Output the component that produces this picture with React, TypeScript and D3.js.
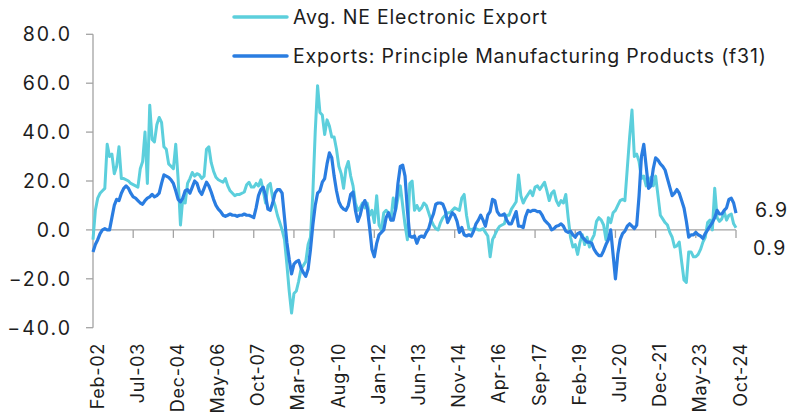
import * as d3 from 'd3'

// monthly, Feb-02 .. Oct-24 (273 points)
const neElectronic = [
  -4, 8, 13, 15, 16, 17, 35, 30, 31, 23, 26, 34, 21, 21, 20.5, 20, 19, 18.5, 18, 17.5,
  25, 28, 40, 19, 51, 37, 36, 43, 46, 44, 34, 33, 27, 26, 25, 35, 21, 2, 13, 11,
  19, 21, 23.5, 22, 23, 22.5, 21, 22, 33, 34, 27.5, 24, 21.5, 20.5, 20, 19.5, 21, 18, 16, 15,
  14, 14.5, 14.5, 15, 15.5, 18.5, 19.5, 17.5, 17.5, 19, 18, 20.5, 16, 11, 18, 19, 13, 10, 6, 3,
  0, -4, -14, -25, -34, -26, -25, -21, -16, -14.5, -13, -6, -3, 15, 40, 59, 48, 47, 39, 45,
  42.5, 38, 38, 33, 26, 23, 17, 25, 28, 22, 18, 11, 8, 9, 11, 9, 11, 6, 8, 3,
  14, 2, 0, 7, 8, 7, 4, 13, 8, 13, 18, 10, 2, -4, 19, 20, 8, 10, 8, 9,
  11, 10, 7, 4, 2, 0.5, 0, 3, 5, 6, 7, 7, 8, 9, 8.5, 8, 13, 14.5, 6, 0.5,
  0, 0.5, 0.5, 0, 0, 0.5, -1, -2.5, -11, -4, -2, 0, 1.5, 2, 2.5, 6, 6, 8.5, 10, 11.5,
  22.5, 14, 11, 13, 14.5, 16, 14, 17.5, 18, 16.5, 18, 19.5, 16, 12, 15, 16, 12, 10, 12, 11,
  14.5, 5, -3, -7, -6, -10, -5, -2, -6, -3, -7, -4, -2, 3.5, 5, 4, 2, -4, 5, 3,
  7, 8, 10, 12, 12.5, 12, 25, 38, 49, 30, 31, 28, 21, 22, 18, 19, 21.5, 18, 22, 14,
  6, 4.5, 3, 2, -1, -3, -7, -6.5, -5, -13, -20.5, -21.5, -9, -9, -11, -11, -10, -8, -5, -3,
  3, 4, 0, 17, 5, 3.5, 4.5, 7.5, 4, 6, 6.5, 2.5, 0.9,
]

const principalMfg = [
  -9, -6, -4, -1.5, 0, 0.5, 0, 0, 5, 10, 12.5, 12, 15, 17, 18, 17, 15, 13.5, 13, 12,
  11, 10.5, 12, 13, 13.5, 14.5, 13.5, 14, 15, 19, 22.5, 22, 21.5, 20.5, 19, 16, 12.5, 11.5, 13, 16,
  16.5, 15, 17.5, 20, 19, 16, 14.5, 17, 19.5, 18, 15.5, 12.5, 10, 8.5, 7.5, 6, 5.5, 6, 6.5, 6,
  6, 5.5, 6, 6, 6.5, 6, 6, 5.5, 5, 9, 14, 16.5, 17.5, 14, 8.5, 8, 11, 15, 16.5, 16.5,
  15, 5, -5, -12, -18, -14, -13, -12.5, -15.5, -17.5, -19, -16, -8, 2, 10, 15, 16, 19.5, 21, 27,
  31.5, 29.5, 22, 16, 11.5, 9.5, 8.5, 8, 10, 14.5, 15.5, 8, 3.5, 6, 10, 12, 9, 1, -8, -11,
  -5.5, -2, -1, 0, 5, 7, 4, 4, 8.5, 19, 26, 26.5, 22, 8, -2.5, -3, -2.5, -5.5, -3, -2.5,
  -3, -1, 0.5, 4, 6.5, 10.5, 11, 11, 10.5, 8, 3, 5, 7, 6, 3.5, -1, 1, -2, -2.5, -2,
  -2.5, -0.5, 2.5, 4, 6, 4, 1.5, 6, 7.5, 12.5, 12, 7.5, 6, 6, 6.5, 4, 2.5, 2.5, 5, 7.5,
  1.5, 1.5, 1, 5.5, 8, 7.5, 8, 8, 7.5, 7.5, 6, 4, 3, 2, 0, 0.5, 1.5, 1.8, 2.5, 1.5,
  -0.5, -1, -0.5, -2, -3, -1.5, -1, -3, -4, -5, -5, -5.5, -8, -9.5, -10.5, -10.5, -8.5, -6, -4, 0,
  -10, -20, -10, -4, -1.5, -0.5, 1.5, 2.5, 1.5, 0.5, 2, 14, 30, 35, 26, 17, 18, 25, 29.5, 28.5,
  27, 26, 24.5, 21, 17.5, 14, 15, 16.5, 15, 12, 9, 3.5, -3, -2, -2, -1, -2, -2.5, -3.5, -1.5,
  0, 1.5, 3, 5, 8, 6.5, 6.5, 8, 9, 12.5, 13, 11, 6.9,
]

const tickLabels = [
  'Feb-02', 'Jul-03', 'Dec-04', 'May-06', 'Oct-07', 'Mar-09', 'Aug-10', 'Jan-12', 'Jun-13',
  'Nov-14', 'Apr-16', 'Sep-17', 'Feb-19', 'Jul-20', 'Dec-21', 'May-23', 'Oct-24',
]
const tickStep = 17
const yTicks = [-40, -20, 0, 20, 40, 60, 80]

const LIGHT = '#5CCFDC'
const DARK = '#2A7DE1'
const AXIS = '#A3A3A3'
const TEXT = '#1d1d1d'
const FONT = 'Inter, sans-serif'

export default function App() {
  const width = 790
  const height = 417
  const x = d3.scaleLinear().domain([0, neElectronic.length - 1]).range([93, 736])
  const y = d3.scaleLinear().domain([-40, 80]).range([327.7, 34.3])
  const fmt = d3.format('.1f')

  const line = d3
    .line<number>()
    .x((_, i) => x(i))
    .y((d) => y(d))

  const legend = [
    { name: 'Avg. NE Electronic Export', color: LIGHT, cy: 17 },
    { name: 'Exports: Principle Manufacturing Products (f31)', color: DARK, cy: 56 },
  ]

  return (
    <svg
      width={width}
      height={height}
      style={{ position: 'absolute', left: 0, top: 0, background: '#fff' }}
      fontFamily={FONT}
    >
      {/* y axis */}
      <line x1={93} x2={93} y1={y(80)} y2={y(-40)} stroke={AXIS} strokeWidth={1.3} />
      {yTicks.map((t) => (
        <g key={t}>
          <line x1={86} x2={93} y1={y(t)} y2={y(t)} stroke={AXIS} strokeWidth={1.3} />
          <text
            x={72}
            y={y(t)}
            textAnchor="end"
            dominantBaseline="central"
            fontSize={19.5}
            letterSpacing={2}
            fill={TEXT}
          >
            {fmt(t)}
          </text>
        </g>
      ))}

      {/* x axis at zero */}
      <line x1={93} x2={736} y1={y(0)} y2={y(0)} stroke={AXIS} strokeWidth={1.3} />
      {tickLabels.map((lab, k) => {
        const tx = x(k * tickStep)
        return (
          <g key={lab}>
            <line x1={tx} x2={tx} y1={y(0)} y2={y(0) + 8} stroke={AXIS} strokeWidth={1.3} />
            <text
              transform={`translate(${tx + 4},343) rotate(-90)`}
              textAnchor="end"
              dominantBaseline="central"
              fontSize={18}
              letterSpacing={0.7}
              fill={TEXT}
            >
              {lab}
            </text>
          </g>
        )
      })}

      {/* series */}
      <path d={line(neElectronic) ?? ''} fill="none" stroke={LIGHT} strokeWidth={3} strokeLinejoin="round" />
      <path d={line(principalMfg) ?? ''} fill="none" stroke={DARK} strokeWidth={3.2} strokeLinejoin="round" />

      {/* end labels */}
      <text x={755} y={210} dominantBaseline="central" fontSize={19.5} letterSpacing={1.5} fill={TEXT}>
        {fmt(principalMfg[principalMfg.length - 1])}
      </text>
      <text x={753} y={248} dominantBaseline="central" fontSize={19.5} letterSpacing={1.5} fill={TEXT}>
        {fmt(neElectronic[neElectronic.length - 1])}
      </text>

      {/* legend */}
      {legend.map((l) => (
        <g key={l.name}>
          <line x1={234} x2={287} y1={l.cy} y2={l.cy} stroke={l.color} strokeWidth={3.5} strokeLinecap="round" />
          <text x={293} y={l.cy} dominantBaseline="central" fontSize={19.5} letterSpacing={0.8} fill={TEXT}>
            {l.name}
          </text>
        </g>
      ))}
    </svg>
  )
}
